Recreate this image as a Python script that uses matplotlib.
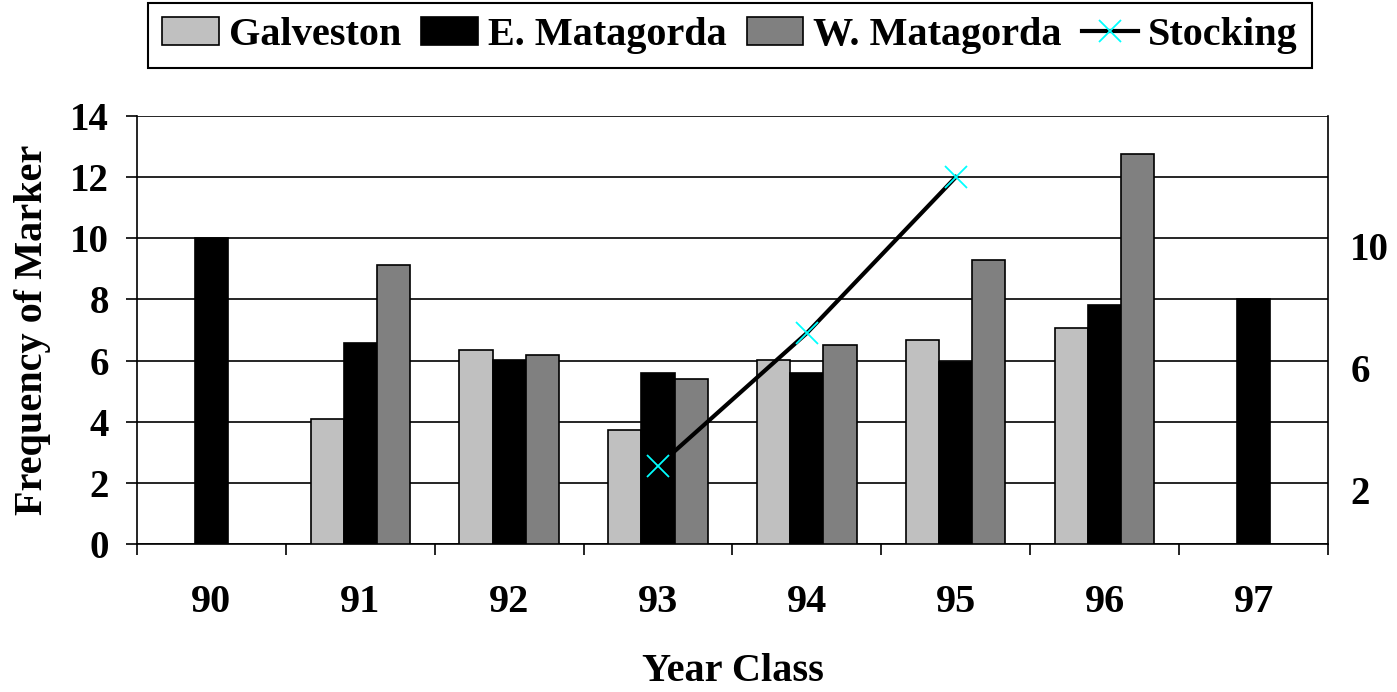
import matplotlib.pyplot as plt
import matplotlib
import numpy as np
from matplotlib.patches import Patch
from matplotlib.lines import Line2D

matplotlib.rcParams['font.family'] = ['Liberation Serif', 'DejaVu Serif']
matplotlib.rcParams['font.weight'] = 'bold'

# data
years = ['90', '91', '92', '93', '94', '95', '96', '97']
galveston = [np.nan, 4.08, 6.35, 3.73, 6.02, 6.67, 7.08, np.nan]
e_matagorda = [10.0, 6.58, 6.02, 5.58, 5.58, 5.94, 7.82, 8.0]
w_matagorda = [np.nan, 9.14, 6.17, 5.41, 6.51, 9.29, 12.76, np.nan]
stock_years = ['93', '94', '95']
stocking = [2.8, 7.15, 12.25]

FS = 29

fig = plt.figure(figsize=(13.97, 6.92), dpi=100)
ax = fig.add_axes([0.098, 0.2139, 0.8526, 0.6185])

x = np.arange(len(years))
w = 1 / 4.5
ax.bar(x - w, galveston, w, color='#c0c0c0', edgecolor='black', linewidth=1.2, zorder=3)
ax.bar(x, e_matagorda, w, color='black', edgecolor='black', linewidth=1.2, zorder=3)
ax.bar(x + w, w_matagorda, w, color='#808080', edgecolor='black', linewidth=1.2, zorder=3)

ax.set_xlim(-0.5, len(years) - 0.5)
ax.set_ylim(0, 14)
ax.set_yticks(range(0, 15, 2))
ax.grid(axis='y', color='black', linewidth=1.2, zorder=0)
ax.set_axisbelow(True)

ax.set_xticks(x)
ax.set_xticklabels(years)
ax.set_xticks(np.arange(-0.5, len(years)), minor=True)
ax.tick_params(axis='x', which='major', length=0, pad=29, labelsize=FS)
ax.tick_params(axis='x', which='minor', length=8, width=1.2, direction='out')
ax.tick_params(axis='y', length=8, width=1.2, direction='out', pad=12, labelsize=FS - 1)

ax.spines['top'].set_visible(False)
ax.spines['right'].set_visible(False)
for s in ['left', 'bottom']:
    ax.spines[s].set_linewidth(1.2)

ax.set_ylabel('Frequency of Marker', fontsize=FS, fontweight='bold')
ax.yaxis.set_label_coords(-0.072, 0.5)
ax.set_xlabel('Year Class', fontsize=FS, fontweight='bold')
ax.xaxis.set_label_coords(0.5, -0.255)

# secondary axis for stocking
ax2 = ax.twinx()
ax2.set_ylim(0.25, 14.25)
ax2.set_yticks([2, 6, 10])
ax2.tick_params(axis='y', length=0, pad=16, labelsize=FS - 1)
for s in ['top', 'left', 'bottom']:
    ax2.spines[s].set_visible(False)
ax2.spines['right'].set_linewidth(1.2)
sx = [years.index(s) for s in stock_years]
ax2.plot(sx, stocking, color='black', linewidth=3, zorder=5)
ax2.plot(sx, stocking, linestyle='none', marker='x', markersize=16,
         markeredgewidth=1.3, color='#00ffff', zorder=6)

handles = [
    Patch(facecolor='#c0c0c0', edgecolor='black', linewidth=1.2),
    Patch(facecolor='black', edgecolor='black', linewidth=1.2),
    Patch(facecolor='#808080', edgecolor='black', linewidth=1.2),
    Line2D([0], [0], color='black', linewidth=3, marker='x', markersize=16,
           markeredgecolor='#00ffff', markeredgewidth=1.3),
]
labels = ['Galveston', 'E. Matagorda', 'W. Matagorda', 'Stocking']
leg = fig.legend(handles, labels, loc='upper center', bbox_to_anchor=(0.5226, 0.996),
                 ncol=4, fontsize=FS, frameon=True, fancybox=False,
                 edgecolor='black', framealpha=1, handlelength=1.4,
                 handletextpad=0.25, columnspacing=0.5, borderpad=0.35,
                 borderaxespad=0.0)
leg.get_frame().set_linewidth(1.5)

fig.savefig('out.png', dpi=100)
